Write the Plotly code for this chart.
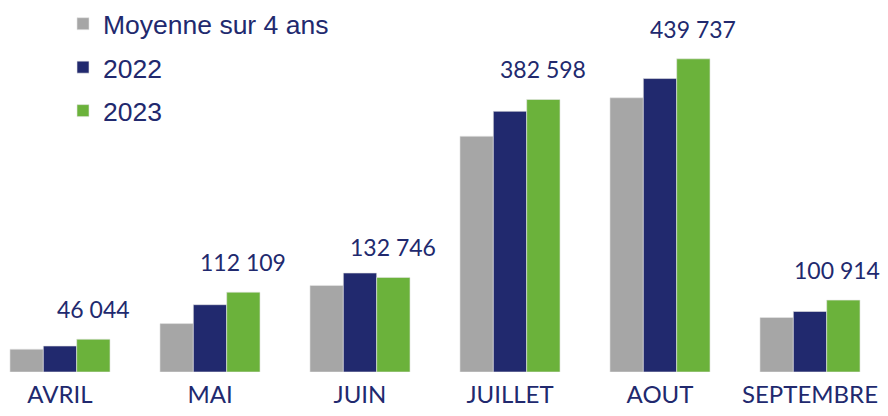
import plotly.graph_objects as go

mois = ['AVRIL', 'MAI', 'JUIN', 'JUILLET', 'AOUT', 'SEPTEMBRE']
moyenne_4ans = [32000, 68000, 121500, 331000, 385000, 76500]
v2022 = [36500, 94500, 139000, 366000, 412000, 85000]
v2023 = [46044, 112109, 132746, 382598, 439737, 100914]
labels_2023 = ['46 044', '112 109', '132 746', '382 598', '439 737', '100 914']

GRIS = '#A6A6A6'
MARINE = '#21296E'
VERT = '#6BB23B'

# la page html ajoute une marge de 8px autour du graphique
fig = go.Figure()
fig.add_bar(x=mois, y=moyenne_4ans, name='Moyenne sur 4 ans', marker_color=GRIS,
            marker_line=dict(width=0.6, color='#E6E6E6'), legendgroup='a')
fig.add_bar(x=mois, y=v2022, name='2022', marker_color=MARINE,
            marker_line=dict(width=0.6, color='#E6E6E6'), legendgroup='b')
fig.add_bar(x=mois, y=v2023, name='2023', marker_color=VERT,
            marker_line=dict(width=0.6, color='#E6E6E6'), legendgroup='c')

# valeurs 2023 au-dessus des barres vertes (la derniere un peu rentree pour ne pas etre coupee)
for i, (m, v, t) in enumerate(zip(mois, v2023, labels_2023)):
    dx = 33 if i < len(mois) - 1 else 27
    fig.add_annotation(x=m, y=v, text=t, showarrow=False, xshift=dx, yshift=14,
                       yanchor='bottom', font=dict(family='Lato', size=23, color=MARINE))

fig.update_layout(
    width=880, height=400,
    margin=dict(l=0, r=0, t=0, b=36, autoexpand=False),
    paper_bgcolor='white', plot_bgcolor='white',
    barmode='group', bargap=0.333, bargroupgap=0,
    legend=dict(x=0.0625, y=1.022, xanchor='left', yanchor='top',
                font=dict(family='Liberation Sans', size=26.5, color=MARINE),
                tracegroupgap=6, bgcolor='rgba(0,0,0,0)'),
    xaxis=dict(range=[-0.3467, 5.52], showgrid=False, showline=False, ticks='',
               ticklabelstandoff=6, automargin=False,
               tickfont=dict(family='Lato', size=24, color=MARINE)),
    yaxis=dict(range=[0, 364 * 1404], visible=False, showgrid=False),
)

fig.write_html('out.html')
